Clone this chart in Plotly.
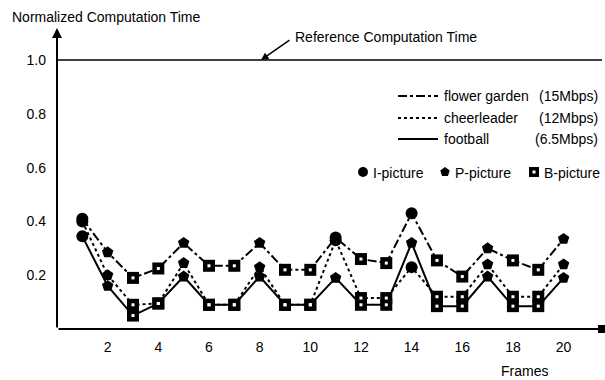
import plotly.graph_objects as go

# ---- data ----
frames = list(range(1, 21))
flower_garden = [0.41, 0.285, 0.19, 0.225, 0.32, 0.235, 0.235, 0.32, 0.22, 0.22,
                 0.34, 0.26, 0.245, 0.43, 0.255, 0.195, 0.30, 0.255, 0.22, 0.335]
cheerleader = [0.40, 0.20, 0.09, 0.095, 0.245, 0.09, 0.09, 0.23, 0.09, 0.09,
               0.33, 0.115, 0.115, 0.23, 0.12, 0.12, 0.24, 0.12, 0.12, 0.24]
football = [0.345, 0.16, 0.05, 0.095, 0.195, 0.09, 0.09, 0.195, 0.09, 0.09,
            0.19, 0.09, 0.09, 0.32, 0.085, 0.085, 0.195, 0.085, 0.085, 0.19]
types_flower = ["I", "P", "B", "B", "P", "B", "B", "P", "B", "B",
                "I", "B", "B", "I", "B", "B", "P", "B", "B", "P"]
types_cheer = ["I", "P", "B", "B", "P", "B", "B", "P", "B", "B",
               "I", "B", "B", "I", "B", "B", "P", "B", "B", "P"]
types_football = ["I", "P", "B", "B", "P", "B", "B", "P", "B", "B",
                  "P", "B", "B", "P", "B", "B", "P", "B", "B", "P"]
reference_value = 1.0
y_ticks = [0.2, 0.4, 0.6, 0.8, 1.0]
x_ticks = [2, 4, 6, 8, 10, 12, 14, 16, 18, 20]

# ---- layout geometry ----
W, H = 605, 380
L, R, T, B = 57, 3, 28, 51
PX_PER_FRAME = 25.33
PX_PER_UNIT = 269.0
XMAX = (W - L - R) / PX_PER_FRAME
YMAX = (H - T - B) / PX_PER_UNIT


def dx(px):
    return (px - L) / PX_PER_FRAME


def dy(py):
    return (H - B - py) / PX_PER_UNIT


def paper_x(px):
    return (px - L) / (W - L - R)


def paper_y(py):
    return (H - B - py) / (H - T - B)


FONT = "Liberation Sans, Arial, sans-serif"
FS = 14
SYM = {"I": "circle", "P": "pentagon", "B": "square"}
MSIZE = 12

fig = go.Figure()

series = [
    ("flower garden", flower_garden, types_flower, "dashdot"),
    ("cheerleader", cheerleader, types_cheer, "dot"),
    ("football", football, types_football, "solid"),
]
for name, vals, types, dash in series:
    fig.add_trace(go.Scatter(
        x=frames, y=vals, mode="lines+markers", name=name,
        line=dict(color="black", width=2, dash=dash),
        marker=dict(color="black", size=MSIZE, symbol=[SYM[t] for t in types]),
        showlegend=False, cliponaxis=False,
    ))
for name, vals, types, dash in series:
    bx = [f for f, t in zip(frames, types) if t == "B"]
    by = [v for v, t in zip(vals, types) if t == "B"]
    fig.add_trace(go.Scatter(
        x=bx, y=by, mode="markers",
        marker=dict(color="white", size=3, symbol="square"),
        showlegend=False, hoverinfo="skip", cliponaxis=False,
    ))

# marker legend
fig.add_trace(go.Scatter(
    x=[dx(363), dx(445), dx(534)], y=[dy(172)] * 3, mode="markers",
    marker=dict(color="black", size=10, symbol=["circle", "pentagon", "square"]),
    showlegend=False, hoverinfo="skip", cliponaxis=False,
))
fig.add_trace(go.Scatter(
    x=[dx(534)], y=[dy(172)], mode="markers",
    marker=dict(color="white", size=3, symbol="square"),
    showlegend=False, hoverinfo="skip", cliponaxis=False,
))

ann = []
fig.add_shape(type="line", x0=0, x1=XMAX, y0=reference_value, y1=reference_value,
              xref="x", yref="y", line=dict(color="black", width=1.5))
ann.append(dict(x=0, y=YMAX, ax=0, ay=0, xref="x", yref="y", axref="x", ayref="y",
                text="", showarrow=True, arrowhead=2, arrowsize=1, arrowwidth=2,
                arrowcolor="black", standoff=0, startstandoff=0))
ann.append(dict(x=XMAX, y=0, ax=0, ay=0, xref="x", yref="y", axref="x", ayref="y",
                text="", showarrow=True, arrowhead=7, arrowsize=1, arrowwidth=2,
                arrowcolor="black", standoff=0, startstandoff=0))
ann.append(dict(x=dx(261), y=reference_value, ax=dx(291), ay=dy(39),
                xref="x", yref="y", axref="x", ayref="y",
                text="", showarrow=True, arrowhead=2, arrowsize=1, arrowwidth=1.5,
                arrowcolor="black", standoff=0, startstandoff=0))
ann.append(dict(x=paper_x(293), y=paper_y(37), xref="paper", yref="paper",
                text="Reference Computation Time",
                showarrow=False, xanchor="left", yanchor="middle",
                font=dict(family=FONT, size=FS, color="black")))
ann.append(dict(x=paper_x(10), y=paper_y(17), xref="paper", yref="paper",
                text="Normalized Computation Time",
                showarrow=False, xanchor="left", yanchor="middle",
                font=dict(family=FONT, size=FS, color="black")))
ann.append(dict(x=paper_x(524), y=paper_y(371), xref="paper", yref="paper", text="Frames",
                showarrow=False, xanchor="center", yanchor="middle",
                font=dict(family=FONT, size=FS, color="black")))

leg_rows = [("flower garden", "(15Mbps)", "dashdot", 96),
            ("cheerleader", "(12Mbps)", "dot", 118),
            ("football", "(6.5Mbps)", "solid", 139)]
for nm, rate, dash, yy in leg_rows:
    fig.add_shape(type="line", x0=dx(398), x1=dx(438), y0=dy(yy), y1=dy(yy),
                  xref="x", yref="y", line=dict(color="black", width=2, dash=dash))
    ann.append(dict(x=paper_x(442), y=paper_y(yy), xref="paper", yref="paper", text=nm,
                    showarrow=False, xanchor="left", yanchor="middle",
                    font=dict(family=FONT, size=FS, color="black")))
    ann.append(dict(x=paper_x(600), y=paper_y(yy), xref="paper", yref="paper", text=rate,
                    showarrow=False, xanchor="right", yanchor="middle",
                    font=dict(family=FONT, size=FS, color="black")))
for lab, xx in [("I-picture", 371), ("P-picture", 453), ("B-picture", 542)]:
    ann.append(dict(x=paper_x(xx), y=paper_y(173), xref="paper", yref="paper", text=lab,
                    showarrow=False, xanchor="left", yanchor="middle",
                    font=dict(family=FONT, size=FS, color="black")))

fig.update_layout(
    width=W, height=H, autosize=False,
    margin=dict(l=L, r=R, t=T, b=B, pad=0),
    plot_bgcolor="white", paper_bgcolor="white",
    annotations=ann,
    xaxis=dict(range=[0, XMAX], showgrid=False, zeroline=False, showline=False,
               tickmode="array", tickvals=x_ticks, ticktext=[str(v) for v in x_ticks],
               ticks="", ticklabelstandoff=8, automargin=False,
               tickfont=dict(family=FONT, size=FS, color="black")),
    yaxis=dict(range=[0, YMAX], showgrid=False, zeroline=False, showline=False,
               tickmode="array", tickvals=y_ticks, ticktext=["%.1f" % v for v in y_ticks],
               ticks="", ticklabelstandoff=10, automargin=False,
               tickfont=dict(family=FONT, size=FS, color="black")),
    hovermode=False,
)

fig.write_html("out.html", config={"displayModeBar": False},
               post_script="document.body.style.margin='0';")
